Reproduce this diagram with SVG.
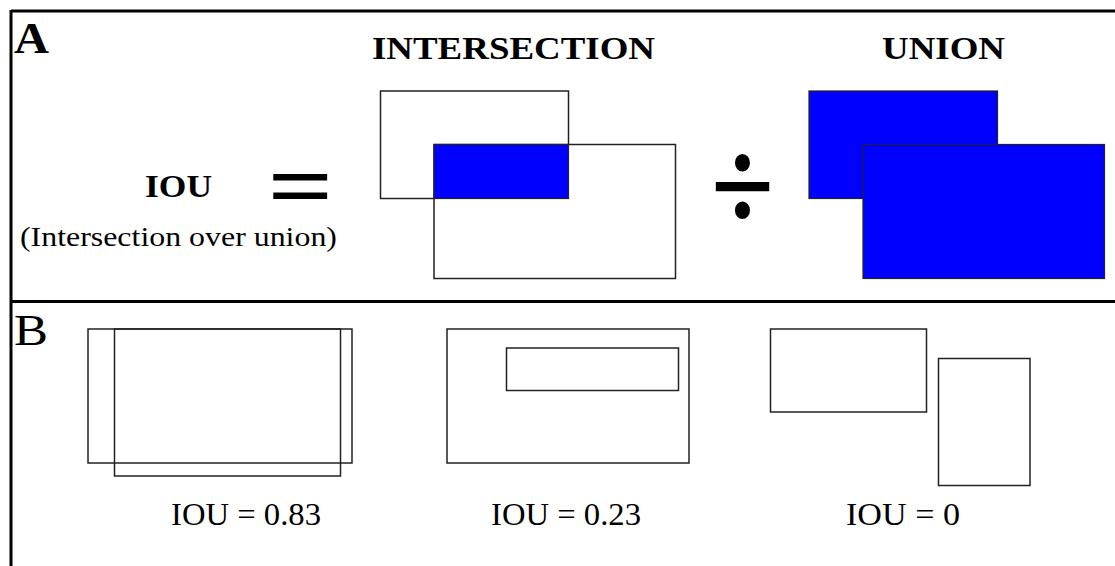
<svg xmlns="http://www.w3.org/2000/svg" width="1115" height="566" viewBox="0 0 1115 566">
<style>
.frame{stroke:#000;stroke-width:3;fill:none}
.box{fill:#fff;stroke:#222;stroke-width:1.5}
.open{fill:none;stroke:#222;stroke-width:1.5}
.blue{fill:#0000ff;stroke:#222;stroke-width:1.2}
.hd{font-family:"Liberation Serif",serif;font-weight:bold;fill:#000}
.tx{font-family:"Liberation Serif",serif;fill:#000}
.op{font-family:"Liberation Serif",serif;font-weight:bold;fill:#000}
</style>
<rect width="1115" height="566" fill="#fff"/>
<g id="frame">
<line class="frame" x1="11" y1="11" x2="1115" y2="11"/>
<line class="frame" x1="11" y1="301.5" x2="1115" y2="301.5"/>
<line class="frame" x1="11" y1="10" x2="11" y2="566"/>
</g>
<g id="panelA">
<text class="hd" x="14" y="53" font-size="44" textLength="35" lengthAdjust="spacingAndGlyphs">A</text>
<text class="hd" x="372" y="59" font-size="31" textLength="283" lengthAdjust="spacingAndGlyphs">INTERSECTION</text>
<text class="hd" x="882" y="59" font-size="31" textLength="123" lengthAdjust="spacingAndGlyphs">UNION</text>
<text class="hd" x="145" y="197" font-size="32" textLength="67" lengthAdjust="spacingAndGlyphs">IOU</text>
<text class="tx" x="20" y="246" font-size="28" textLength="317" lengthAdjust="spacingAndGlyphs">(Intersection over union)</text>
<g transform="translate(300.5,184) scale(0.92,0.74)"><text class="op" x="0" y="45" font-size="126" text-anchor="middle">=</text></g>
<g transform="translate(742.5,181) scale(0.82,0.96)"><text class="op" x="0" y="52" font-size="140" text-anchor="middle">÷</text></g>
</g>
<g id="intersection">
<rect class="box" x="380.5" y="91" width="188" height="107.5"/>
<rect class="box" x="434" y="144.5" width="241.5" height="134"/>
<rect class="blue" x="434" y="144.5" width="134.5" height="54"/>
</g>
<g id="union">
<rect class="blue" x="809" y="91" width="188.5" height="107.5"/>
<rect class="blue" x="863" y="144.5" width="241.5" height="134"/>
</g>
<g id="panelB">
<text class="tx" x="14" y="345" font-size="45" textLength="34" lengthAdjust="spacingAndGlyphs">B</text>
</g>
<g id="example1">
<rect class="open" x="88" y="329" width="264" height="134"/>
<rect class="open" x="114.5" y="329" width="226" height="147"/>
<text class="tx" x="171" y="525" font-size="32" textLength="150" lengthAdjust="spacingAndGlyphs">IOU = 0.83</text>
</g>
<g id="example2">
<rect class="box" x="447" y="329" width="242" height="134"/>
<rect class="box" x="506.5" y="348" width="172" height="42.5"/>
<text class="tx" x="491" y="525" font-size="32" textLength="150" lengthAdjust="spacingAndGlyphs">IOU = 0.23</text>
</g>
<g id="example3">
<rect class="box" x="770.5" y="329" width="156" height="83"/>
<rect class="box" x="938.5" y="358.5" width="91.5" height="127"/>
<text class="tx" x="846" y="525" font-size="32" textLength="114" lengthAdjust="spacingAndGlyphs">IOU = 0</text>
</g>
<g id="connectors"/>
</svg>
